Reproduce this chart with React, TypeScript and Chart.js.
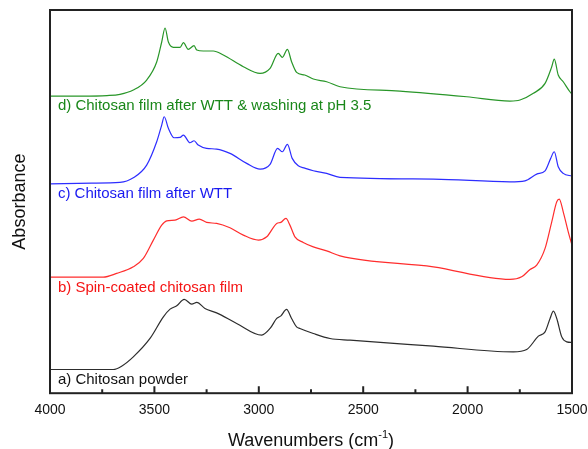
import { useEffect, useRef } from "react";
import { Chart, registerables } from "chart.js";

Chart.register(...registerables);

// a) Chitosan powder
const wnA = [4000, 3697, 3657, 3601, 3521, 3457, 3425, 3393, 3357, 3321, 3297, 3258, 3202, 3106, 2986, 2946, 2914, 2894, 2867, 2843, 2819, 2803, 2739, 2659, 2563, 2164, 1781, 1717, 1661, 1629, 1605, 1589, 1573, 1549, 1525, 1500];
const absA = [23.7, 23.7, 27, 36.3, 54.7, 76.3, 84, 87.3, 93.7, 89, 90.7, 84.7, 80.3, 69.7, 58, 64.7, 74.7, 77.3, 83.7, 74.7, 66.3, 64.7, 59.7, 54.7, 53, 47, 41.3, 43.7, 57, 61.3, 74.7, 82, 74.7, 56.3, 51.3, 50.7];

// b) Spin-coated chitosan film
const wnB = [4000, 3745, 3681, 3601, 3553, 3505, 3465, 3441, 3401, 3361, 3321, 3285, 3250, 3202, 3138, 3074, 3002, 2962, 2914, 2895, 2870, 2851, 2827, 2787, 2739, 2675, 2611, 2164, 1797, 1741, 1701, 1669, 1629, 1597, 1573, 1561, 1542, 1518, 1500];
const absB = [116, 116, 119.7, 126.3, 134.7, 153, 168, 172.3, 173, 176.3, 172, 174, 170.7, 169.7, 165.3, 158, 153, 156.3, 169.7, 170.7, 174.7, 168, 156.3, 150.7, 146.3, 142.3, 137.3, 126.3, 113.7, 116.3, 123.7, 128, 144.7, 171.3, 191.3, 194, 181.3, 161.3, 148];

// c) Chitosan film after WTT
const wnC = [4000, 3800, 3665, 3601, 3537, 3489, 3465, 3453, 3433, 3406, 3377, 3361, 3330, 3310, 3290, 3250, 3202, 3138, 3058, 2994, 2946, 2910, 2887, 2863, 2840, 2811, 2780, 2739, 2675, 2611, 2164, 1797, 1725, 1669, 1629, 1602, 1585, 1566, 1542, 1500];
const absC = [209.3, 210, 210.7, 215.3, 228, 251.3, 268, 276.3, 264.7, 255.3, 255.7, 258, 250.3, 252.3, 248, 244.7, 244, 239.7, 229.7, 224, 228.7, 244.7, 241.3, 248.7, 234.7, 227.3, 225, 222.3, 219.7, 215.7, 214, 211.3, 212.3, 219, 222.3, 234.7, 241.3, 226.3, 219.7, 217];

// d) Chitosan film after WTT & washing at pH 3.5
const wnD = [4000, 3850, 3727, 3665, 3601, 3537, 3489, 3465, 3449, 3433, 3409, 3377, 3361, 3338, 3310, 3297, 3266, 3218, 3170, 3074, 2994, 2946, 2907, 2887, 2863, 2843, 2819, 2780, 2739, 2675, 2611, 2324, 2004, 1797, 1749, 1685, 1629, 1597, 1585, 1566, 1542, 1510, 1500];
const absD = [297, 297, 297.5, 298.7, 303, 313, 331, 351, 365, 351, 345.7, 345.7, 350.3, 343.7, 347.3, 343, 342, 342, 338, 326.3, 319.7, 324.7, 339.7, 335.7, 343.7, 331.3, 320.7, 318, 314, 311.3, 306.3, 302, 296.3, 292, 293, 299.7, 309.7, 326.3, 334, 318, 311.3, 301.3, 299];

const seriesNames = [
  "a) Chitosan powder",
  "b) Spin-coated chitosan film",
  "c) Chitosan film after WTT",
  "d) Chitosan film after WTT & washing at pH 3.5",
];
const lineColors = ["rgb(45,45,45)", "rgb(255,45,45)", "rgb(45,45,255)", "rgb(40,150,40)"];
const textColors = ["#111111", "rgb(245,20,20)", "rgb(25,25,240)", "rgb(25,135,25)"];
const labelWn = [3962, 3962, 3962, 3962];
const labelAbs = [13.7, 105.7, 199, 287];

const majorTicks = [4000, 3500, 3000, 2500, 2000, 1500];
const minorTicks = [3750, 3250, 2750, 2250, 1750];

const FONT = "'Liberation Sans', Arial, Helvetica, sans-serif";

export default function App() {
  const ref = useRef<HTMLCanvasElement>(null);

  useEffect(() => {
    const toPts = (xs: number[], ys: number[]) => xs.map((x, i) => ({ x, y: ys[i] }));
    const wns = [wnA, wnB, wnC, wnD];
    const abss = [absA, absB, absC, absD];

    const decor = {
      id: "decor",
      afterDraw(chart: any) {
        const { ctx, chartArea } = chart;
        const xs = chart.scales.x;
        const ys = chart.scales.y;
        const { left, right, top, bottom } = chartArea;
        ctx.save();
        // inward ticks
        ctx.strokeStyle = "#222";
        ctx.lineWidth = 2;
        ctx.beginPath();
        majorTicks.forEach((v) => {
          const px = xs.getPixelForValue(v);
          ctx.moveTo(px, bottom);
          ctx.lineTo(px, bottom - 7);
        });
        minorTicks.forEach((v) => {
          const px = xs.getPixelForValue(v);
          ctx.moveTo(px, bottom);
          ctx.lineTo(px, bottom - 4);
        });
        ctx.stroke();
        // frame
        ctx.strokeRect(left, top, right - left, bottom - top);

        // series labels
        ctx.font = `15px ${FONT}`;
        ctx.textAlign = "left";
        ctx.textBaseline = "middle";
        seriesNames.forEach((name, i) => {
          ctx.fillStyle = textColors[i];
          ctx.fillText(name, xs.getPixelForValue(labelWn[i]), ys.getPixelForValue(labelAbs[i]));
        });

        // x title with superscript
        ctx.fillStyle = "#111";
        ctx.textBaseline = "alphabetic";
        const main = "Wavenumbers (cm";
        const sup = "-1";
        const close = ")";
        ctx.font = `18px ${FONT}`;
        const wMain = ctx.measureText(main).width;
        const wClose = ctx.measureText(close).width;
        ctx.font = `11px ${FONT}`;
        const wSup = ctx.measureText(sup).width;
        const total = wMain + wSup + wClose;
        let x0 = (left + right) / 2 - total / 2;
        const yb = bottom + 53;
        ctx.font = `18px ${FONT}`;
        ctx.fillText(main, x0, yb);
        x0 += wMain;
        ctx.font = `11px ${FONT}`;
        ctx.fillText(sup, x0, yb - 8);
        x0 += wSup;
        ctx.font = `18px ${FONT}`;
        ctx.fillText(close, x0, yb);

        // y title
        ctx.translate(25, (top + bottom) / 2);
        ctx.rotate(-Math.PI / 2);
        ctx.textAlign = "center";
        ctx.fillText("Absorbance", 0, 0);
        ctx.restore();
      },
    };

    const chart = new Chart(ref.current as HTMLCanvasElement, {
      type: "line",
      data: {
        datasets: seriesNames.map((name, i) => ({
          label: name,
          data: toPts(wns[i], abss[i]),
          borderColor: lineColors[i],
          backgroundColor: lineColors[i],
          borderWidth: 1.2,
          pointRadius: 0,
          cubicInterpolationMode: "monotone" as const,
          fill: false,
        })),
      },
      options: {
        animation: false,
        responsive: false,
        layout: { padding: { left: 50, right: 16, top: 10, bottom: 30 } },
        plugins: { legend: { display: false }, tooltip: { enabled: false } },
        scales: {
          x: {
            type: "linear",
            min: 1500,
            max: 4000,
            reverse: true,
            grid: { display: false, drawTicks: true, tickLength: 9 },
            border: { display: false },
            ticks: {
              stepSize: 500,
              autoSkip: false,
              maxRotation: 0,
              padding: 0,
              color: "#111",
              font: { family: FONT, size: 14 },
              callback: (v: any) => String(v),
            },
          },
          y: { display: false, min: 0, max: 383 },
        },
      },
      plugins: [decor],
    });
    return () => chart.destroy();
  }, []);

  return (
    <div style={{ position: "absolute", left: 0, top: 0, width: 588, height: 449, background: "#fff" }}>
      <canvas ref={ref} width={588} height={449} style={{ display: "block" }} />
    </div>
  );
}
